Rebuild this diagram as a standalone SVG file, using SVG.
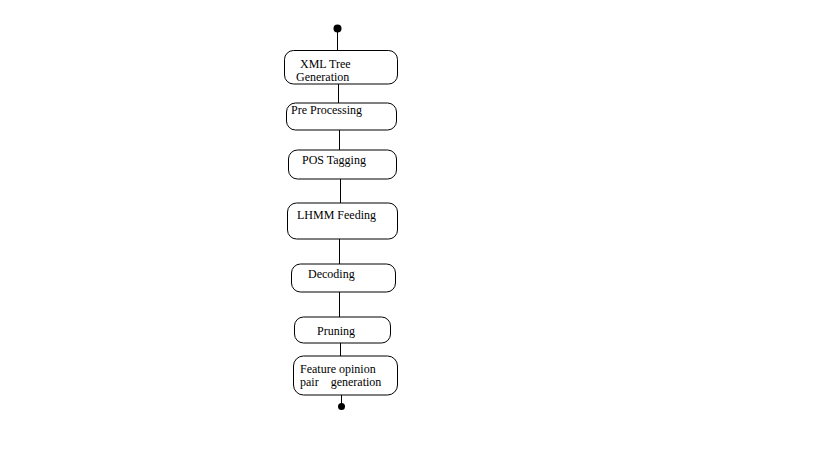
<svg xmlns="http://www.w3.org/2000/svg" width="819" height="460" viewBox="0 0 819 460">
<style>
.box{fill:#fff;stroke:#000;stroke-width:1}
.ln{stroke:#000;stroke-width:1;fill:none}
.t{font-family:"Liberation Serif","Times New Roman",serif;font-size:12px;fill:#000;white-space:pre}
</style>
<rect width="819" height="460" fill="#fff"/>
<g id="connectors">
<line class="ln" x1="337.5" y1="28" x2="337.5" y2="50.5"/>
<line class="ln" x1="338.5" y1="84" x2="338.5" y2="103"/>
<line class="ln" x1="339.5" y1="130" x2="339.5" y2="150"/>
<line class="ln" x1="340.5" y1="179" x2="340.5" y2="203"/>
<line class="ln" x1="339.5" y1="239" x2="339.5" y2="264"/>
<line class="ln" x1="339.5" y1="292" x2="339.5" y2="317"/>
<line class="ln" x1="340.5" y1="343" x2="340.5" y2="356"/>
<line class="ln" x1="341.5" y1="395" x2="341.5" y2="406"/>
</g>
<g id="start"><circle cx="337.5" cy="28.5" r="4" fill="#000"/></g>
<g id="n1"><rect class="box" x="284.5" y="50.5" width="113" height="33.5" rx="9" ry="9"/>
<text class="t" x="300" y="68">XML Tree</text><text class="t" x="296" y="81">Generation</text></g>
<g id="n2"><rect class="box" x="286.5" y="103" width="110" height="27" rx="9" ry="9"/>
<text class="t" x="291" y="114">Pre Processing</text></g>
<g id="n3"><rect class="box" x="288.5" y="150" width="108" height="29" rx="9" ry="9"/>
<text class="t" x="302" y="164">POS Tagging</text></g>
<g id="n4"><rect class="box" x="287.5" y="203" width="110" height="36" rx="9" ry="9"/>
<text class="t" x="297" y="219">LHMM Feeding</text></g>
<g id="n5"><rect class="box" x="291.5" y="264" width="104" height="28" rx="9" ry="9"/>
<text class="t" x="308" y="278">Decoding</text></g>
<g id="n6"><rect class="box" x="294.5" y="317" width="96" height="26" rx="9" ry="9"/>
<text class="t" x="317" y="335">Pruning</text></g>
<g id="n7"><rect class="box" x="293.5" y="356" width="104" height="39" rx="10" ry="10"/>
<text class="t" x="300" y="373">Feature opinion</text><text class="t" x="300" y="386">pair    generation</text></g>
<g id="end"><circle cx="341.5" cy="406.5" r="3.5" fill="#000"/></g>
</svg>
